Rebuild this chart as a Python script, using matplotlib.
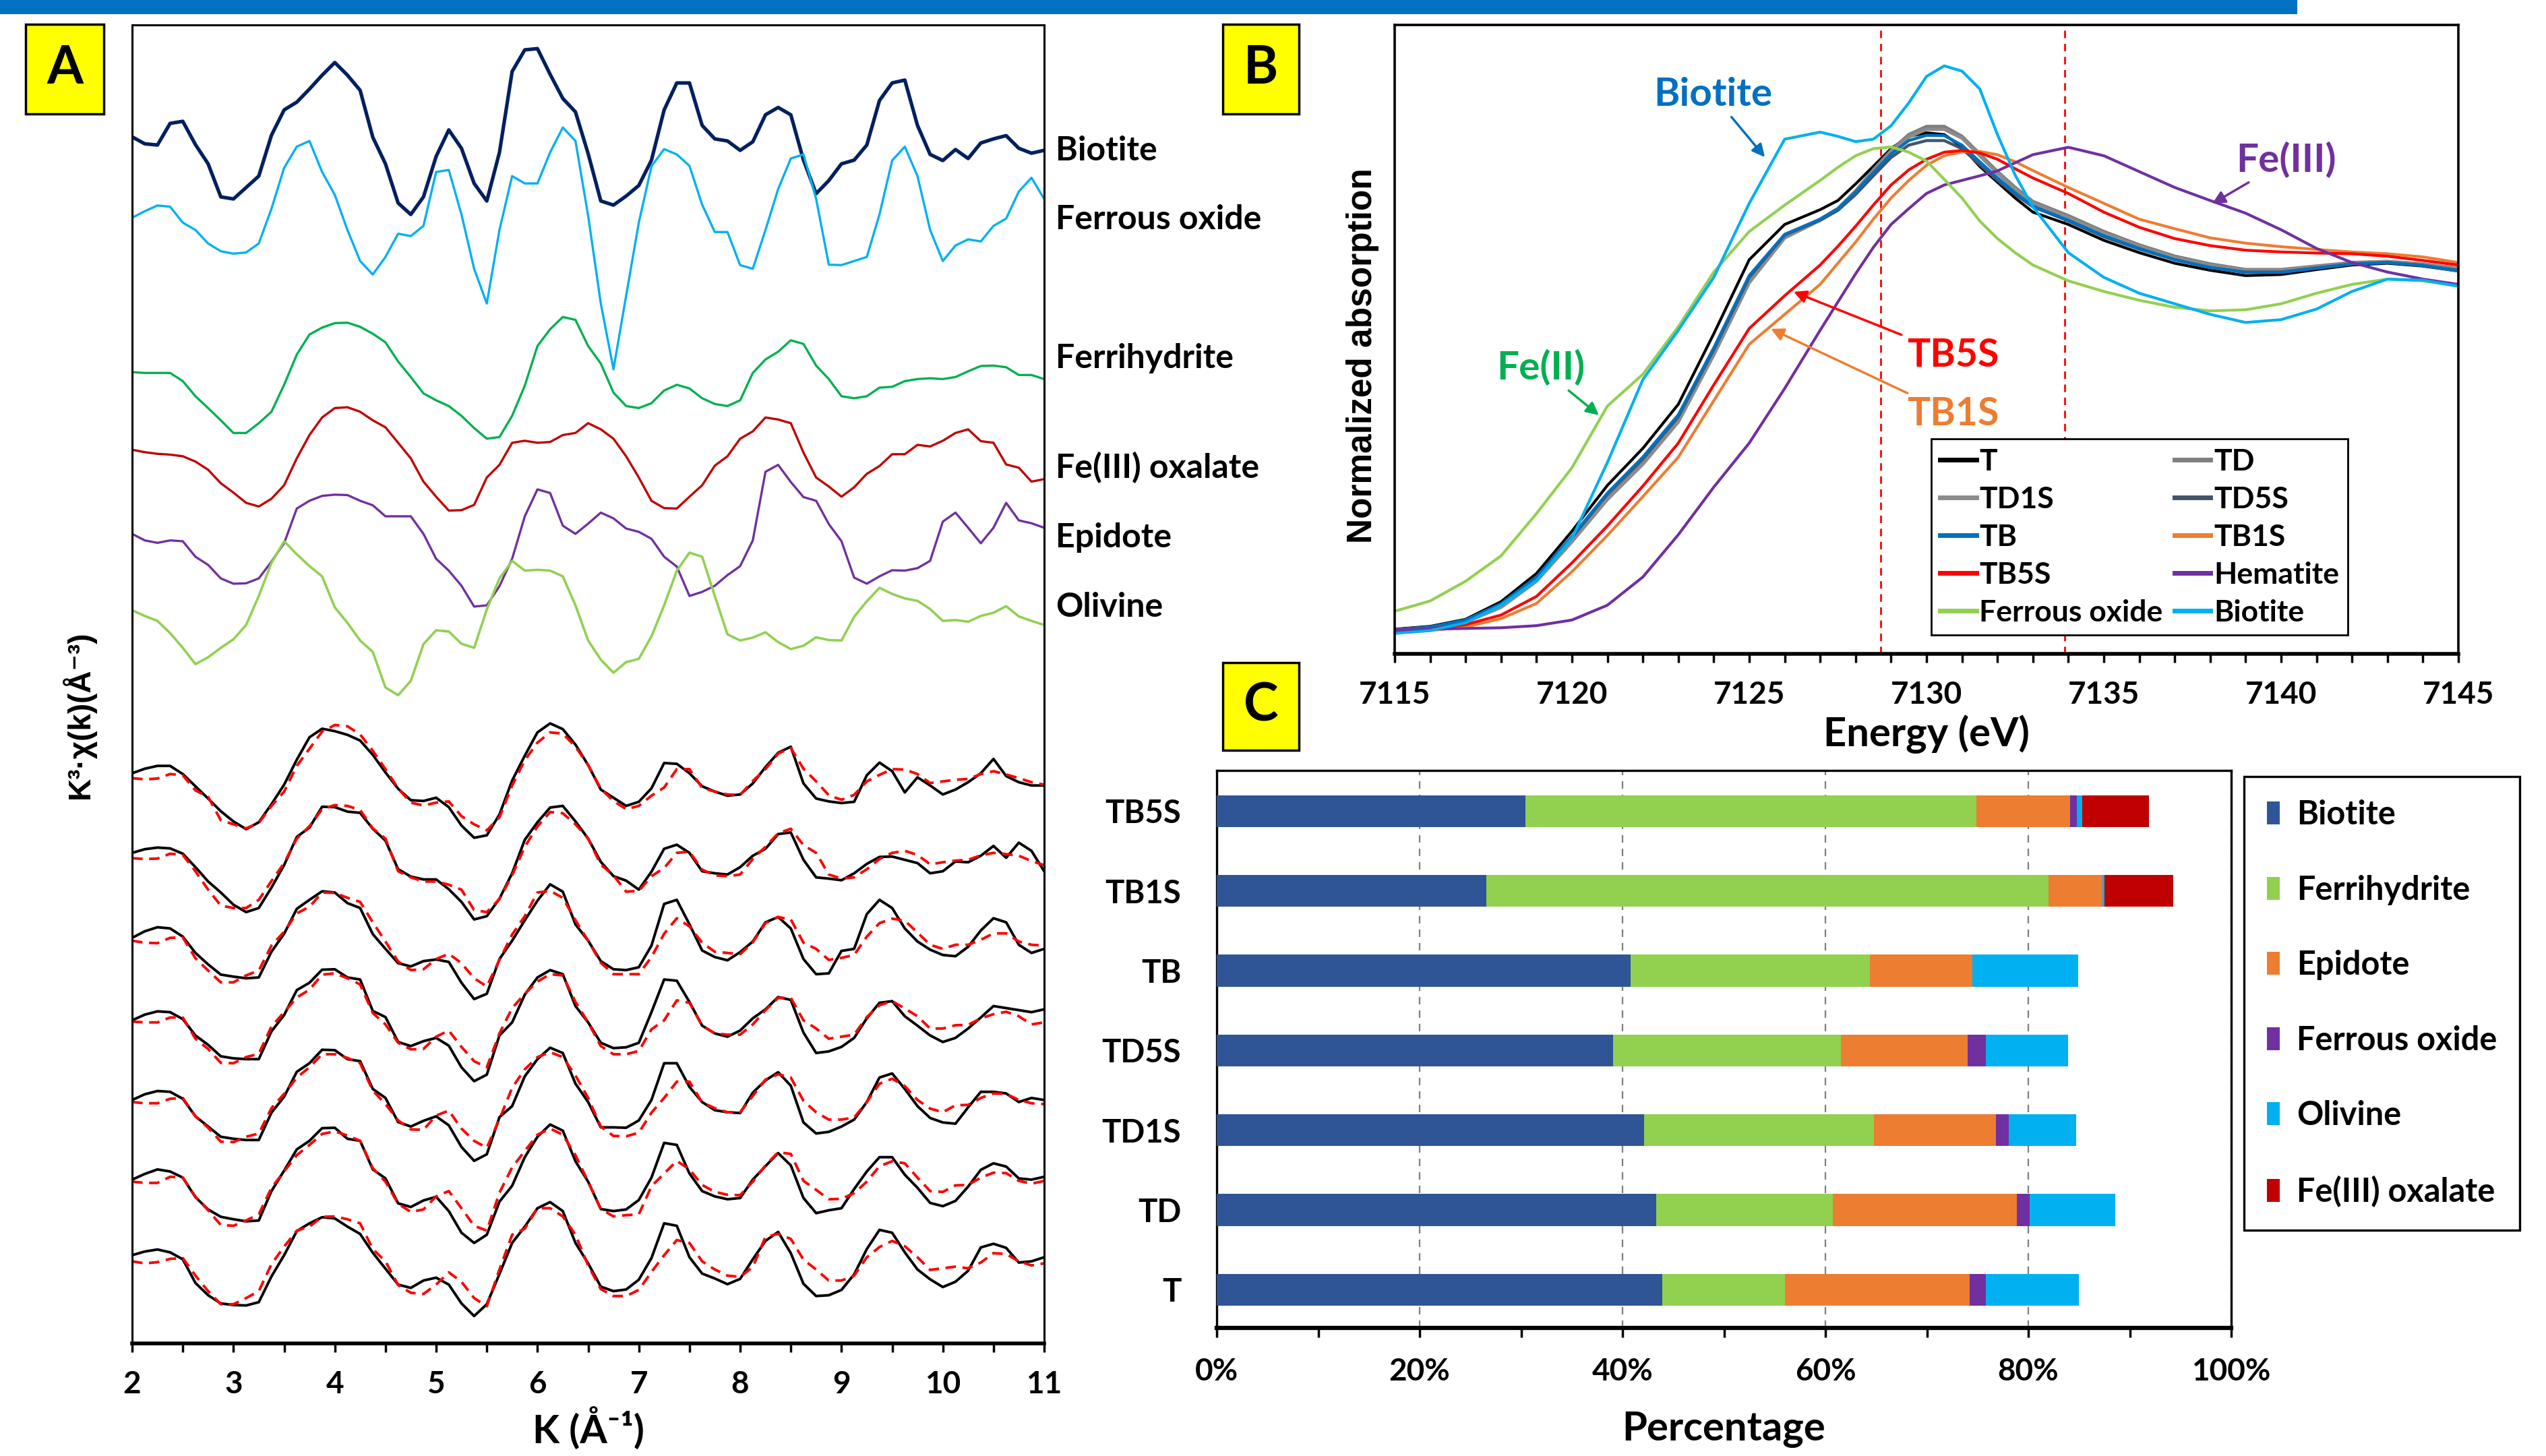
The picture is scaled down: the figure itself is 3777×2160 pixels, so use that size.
import numpy as np
import matplotlib
matplotlib.use('Agg')
import matplotlib.pyplot as plt
from matplotlib.patches import Rectangle, Patch
from matplotlib.ticker import MultipleLocator, FuncFormatter

plt.rcParams['font.family'] = ['Lato', 'DejaVu Sans']
plt.rcParams['font.weight'] = 'bold'

ARIAL = ['Liberation Sans', 'DejaVu Sans']

# ---------------- Panel A : k3-weighted EXAFS, stacked (arbitrary units) ----------------
k = np.arange(2.0, 11.0001, 0.125)

ref_biotite = [29.98, 29.81, 29.78, 30.31, 30.36, 29.79, 29.32, 28.51, 28.46, 28.74, 29.02, 30.02, 30.64,
               30.83, 31.15, 31.49, 31.80, 31.49, 31.12, 29.97, 29.32, 28.36, 28.08, 28.51, 29.50, 30.15,
               29.70, 28.84, 28.41, 29.60, 31.58, 32.11, 32.14, 31.51, 30.92, 30.59, 29.57, 28.41, 28.31,
               28.53, 28.79, 29.41, 30.64, 31.30, 31.30, 30.26, 29.93, 29.88, 29.65, 29.86, 30.52, 30.70,
               30.52, 29.41, 28.59, 28.91, 29.32, 29.41, 29.78, 30.87, 31.30, 31.37, 30.26, 29.55, 29.40,
               29.67, 29.45, 29.83, 29.93, 30.01, 29.70, 29.58, 29.65]
ref_ferrous_oxide = [28.00, 28.16, 28.30, 28.27, 27.88, 27.70, 27.37, 27.18, 27.12, 27.15, 27.37, 28.22, 29.22,
                     29.74, 29.88, 29.12, 28.56, 27.70, 26.94, 26.61, 27.04, 27.61, 27.55, 27.80, 29.12, 29.17,
                     28.08, 26.75, 25.90, 27.70, 29.02, 28.84, 28.84, 29.60, 30.21, 29.88, 28.05, 25.90, 24.29,
                     26.09, 27.88, 29.26, 29.68, 29.55, 29.27, 28.32, 27.65, 27.65, 26.84, 26.75, 27.70, 28.70,
                     29.45, 29.55, 28.46, 26.85, 26.84, 26.94, 27.04, 28.08, 29.40, 29.74, 29.02, 27.70, 26.94,
                     27.32, 27.47, 27.42, 27.80, 27.98, 28.64, 28.98, 28.46]
ref_ferrihydrite = [24.22, 24.20, 24.20, 24.20, 24.00, 23.63, 23.34, 23.04, 22.73, 22.73, 22.97, 23.25, 23.91,
                    24.65, 25.14, 25.31, 25.42, 25.43, 25.33, 25.16, 24.95, 24.48, 24.10, 23.70, 23.53, 23.39,
                    23.15, 22.85, 22.59, 22.63, 23.15, 23.89, 24.86, 25.27, 25.57, 25.50, 24.86, 24.43, 23.72,
                    23.39, 23.34, 23.46, 23.77, 23.91, 23.82, 23.58, 23.44, 23.39, 23.53, 24.20, 24.53, 24.72,
                    25.00, 24.91, 24.38, 24.05, 23.63, 23.58, 23.63, 23.84, 23.86, 24.00, 24.05, 24.07, 24.05,
                    24.10, 24.24, 24.37, 24.38, 24.34, 24.15, 24.15, 24.05]
ref_fe3_oxalate = [22.32, 22.26, 22.22, 22.20, 22.16, 22.03, 21.83, 21.50, 21.27, 21.02, 20.93, 21.12, 21.45,
                   22.11, 22.68, 23.11, 23.34, 23.36, 23.25, 23.04, 22.87, 22.49, 22.11, 21.54, 21.17, 20.83,
                   20.84, 20.97, 21.64, 21.95, 22.49, 22.54, 22.49, 22.51, 22.68, 22.73, 22.97, 22.82, 22.59,
                   22.16, 21.64, 21.07, 20.89, 20.88, 21.17, 21.45, 21.93, 22.16, 22.59, 22.77, 23.11, 23.06,
                   22.97, 22.25, 21.64, 21.42, 21.17, 21.40, 21.73, 21.92, 22.21, 22.21, 22.44, 22.40, 22.54,
                   22.73, 22.82, 22.53, 22.49, 21.96, 21.88, 21.54, 21.60]
ref_epidote = [20.26, 20.10, 20.04, 20.10, 20.08, 19.70, 19.50, 19.17, 19.04, 19.05, 19.17, 19.58, 20.03,
               20.88, 21.07, 21.19, 21.22, 21.21, 21.07, 20.96, 20.69, 20.69, 20.69, 20.26, 19.65, 19.36,
               18.99, 18.48, 18.51, 18.98, 19.65, 20.69, 21.35, 21.26, 20.46, 20.26, 20.51, 20.78, 20.64,
               20.39, 20.31, 20.14, 19.70, 19.46, 18.74, 18.84, 18.99, 19.25, 19.47, 20.10, 21.78, 21.95,
               21.53, 21.16, 21.07, 20.50, 20.08, 19.19, 19.04, 19.22, 19.37, 19.36, 19.42, 19.60, 20.56,
               20.78, 20.41, 20.03, 20.41, 21.02, 20.59, 20.52, 20.41]
ref_olivine = [18.39, 18.25, 18.13, 17.83, 17.47, 17.07, 17.24, 17.47, 17.68, 18.03, 18.74, 19.55, 20.08,
               19.76, 19.47, 19.22, 18.46, 18.08, 17.65, 17.37, 16.50, 16.31, 16.66, 17.56, 17.90, 17.87,
               17.57, 17.47, 18.41, 19.17, 19.60, 19.36, 19.38, 19.36, 19.22, 18.51, 17.65, 17.18, 16.86,
               17.12, 17.20, 17.75, 18.51, 19.36, 19.80, 19.70, 18.74, 17.80, 17.65, 17.72, 17.85, 17.61,
               17.44, 17.52, 17.73, 17.66, 17.65, 18.23, 18.61, 18.94, 18.79, 18.68, 18.62, 18.42, 18.13,
               18.15, 18.11, 18.25, 18.33, 18.49, 18.24, 18.13, 18.03]

# sample spectra (solid) and linear combination fits (dashed), top to bottom
exafs_TB5S = [14.40, 14.51, 14.58, 14.58, 14.38, 14.08, 13.78, 13.47, 13.22, 13.03, 13.20, 13.64, 14.12,
              14.73, 15.28, 15.49, 15.43, 15.34, 15.20, 14.85, 14.42, 14.02, 13.74, 13.72, 13.80, 13.57,
              13.12, 12.82, 12.88, 13.39, 14.22, 14.83, 15.40, 15.62, 15.48, 15.10, 14.60, 14.00, 13.80,
              13.60, 13.70, 14.03, 14.65, 14.63, 14.40, 14.08, 13.95, 13.85, 13.88, 14.15, 14.55, 14.90,
              15.05, 14.15, 13.78, 13.71, 13.67, 13.70, 14.35, 14.66, 14.45, 13.93, 14.30, 14.10, 13.88,
              14.00, 14.18, 14.40, 14.75, 14.33, 14.18, 14.10, 14.10]
fit_TB5S = [14.28, 14.25, 14.27, 14.38, 14.35, 13.98, 13.82, 13.25, 13.15, 13.05, 13.18, 13.60, 13.95,
            14.58, 15.00, 15.42, 15.58, 15.55, 15.35, 14.95, 14.50, 14.03, 13.68, 13.61, 13.68, 13.71,
            13.35, 13.15, 13.00, 13.32, 14.10, 14.72, 15.15, 15.40, 15.37, 15.05, 14.60, 14.02, 13.72,
            13.52, 13.60, 13.85, 14.05, 14.50, 14.50, 14.04, 13.95, 13.88, 13.87, 14.21, 14.50, 14.88,
            15.02, 14.51, 14.20, 13.86, 13.75, 13.87, 14.20, 14.36, 14.50, 14.49, 14.38, 14.16, 14.20,
            14.24, 14.26, 14.38, 14.45, 14.37, 14.28, 14.18, 14.12]
exafs_TB1S = [12.45, 12.54, 12.58, 12.56, 12.43, 12.10, 11.75, 11.48, 11.18, 11.00, 11.10, 11.60, 12.15,
              12.84, 13.07, 13.58, 13.57, 13.46, 13.43, 13.04, 12.75, 12.05, 11.87, 11.80, 11.80, 11.56,
              11.25, 10.82, 10.90, 11.33, 11.95, 12.77, 13.20, 13.56, 13.60, 13.22, 12.80, 12.23, 11.88,
              11.77, 11.55, 11.99, 12.55, 12.65, 12.45, 12.00, 11.95, 11.92, 12.10, 12.38, 12.55, 12.91,
              12.95, 12.28, 11.85, 11.82, 11.78, 11.95, 12.18, 12.35, 12.36, 12.28, 12.20, 11.95, 12.00,
              12.24, 12.22, 12.38, 12.62, 12.33, 12.70, 12.50, 12.00]
fit_TB1S = [12.32, 12.30, 12.31, 12.43, 12.40, 12.00, 11.55, 11.16, 11.10, 11.10, 11.30, 11.76, 12.20,
            12.80, 13.10, 13.52, 13.62, 13.60, 13.50, 13.05, 12.80, 12.00, 11.85, 11.75, 11.75, 11.67,
            11.55, 11.05, 11.00, 11.32, 11.90, 12.60, 13.10, 13.45, 13.42, 13.15, 12.80, 12.16, 11.90,
            11.50, 11.52, 11.88, 12.08, 12.45, 12.48, 12.04, 11.90, 11.88, 11.92, 12.30, 12.60, 12.93,
            13.04, 12.64, 12.45, 11.92, 11.82, 11.85, 12.05, 12.30, 12.45, 12.50, 12.40, 12.17, 12.22,
            12.26, 12.28, 12.39, 12.45, 12.42, 12.38, 12.25, 12.15]
exafs_TB = [10.37, 10.53, 10.63, 10.60, 10.40, 10.00, 9.72, 9.47, 9.42, 9.38, 9.40, 10.03, 10.47,
            11.08, 11.30, 11.51, 11.48, 11.22, 11.10, 10.46, 10.10, 9.75, 9.67, 9.80, 9.84, 9.78,
            9.27, 8.87, 9.00, 9.85, 10.30, 10.80, 11.28, 11.68, 11.50, 10.70, 10.30, 9.80, 9.60,
            9.58, 9.65, 10.18, 11.20, 11.30, 10.70, 10.06, 9.90, 9.82, 10.02, 10.28, 10.75, 10.88,
            10.60, 9.85, 9.48, 9.50, 10.05, 10.10, 10.95, 11.30, 11.10, 10.60, 10.28, 10.08, 9.95,
            9.92, 10.15, 10.55, 10.85, 10.75, 10.20, 10.00, 10.10]
fit_TB = [10.30, 10.25, 10.24, 10.37, 10.38, 9.87, 9.57, 9.28, 9.28, 9.45, 9.57, 10.18, 10.52,
          10.97, 11.13, 11.48, 11.47, 11.35, 11.25, 10.75, 10.28, 9.79, 9.58, 9.60, 9.85, 9.98,
          9.75, 9.38, 9.18, 9.83, 10.45, 10.90, 11.48, 11.52, 11.35, 10.80, 10.30, 9.76, 9.48,
          9.48, 9.48, 9.90, 10.47, 10.85, 10.65, 10.25, 10.03, 10.00, 9.97, 10.26, 10.73, 10.88,
          10.82, 10.25, 10.10, 9.83, 9.88, 9.95, 10.40, 10.73, 10.84, 10.79, 10.50, 10.20, 10.10,
          10.20, 10.20, 10.32, 10.48, 10.48, 10.28, 10.20, 10.18]
exafs_TD5S = [8.35, 8.49, 8.57, 8.55, 8.38, 7.98, 7.75, 7.47, 7.42, 7.40, 7.40, 8.08, 8.48,
              9.09, 9.27, 9.59, 9.60, 9.40, 9.35, 8.58, 8.43, 7.82, 7.72, 7.84, 7.92, 7.73,
              7.20, 6.86, 7.02, 7.98, 8.30, 8.98, 9.40, 9.58, 9.48, 8.70, 8.30, 7.80, 7.67,
              7.69, 7.80, 8.55, 9.35, 9.32, 8.80, 8.22, 8.03, 7.95, 8.10, 8.40, 8.62, 8.92,
              8.85, 8.05, 7.55, 7.59, 7.70, 7.92, 8.40, 8.78, 8.82, 8.45, 8.22, 7.98, 7.82,
              7.92, 8.15, 8.42, 8.70, 8.65, 8.60, 8.55, 8.62]
fit_TD5S = [8.32, 8.30, 8.30, 8.42, 8.42, 7.90, 7.65, 7.31, 7.30, 7.45, 7.53, 8.20, 8.55,
            8.91, 9.10, 9.47, 9.50, 9.38, 9.23, 8.53, 8.25, 7.80, 7.64, 7.65, 7.95, 8.10,
            7.70, 7.35, 7.20, 8.03, 8.65, 9.00, 9.30, 9.48, 9.45, 8.80, 8.30, 7.72, 7.52,
            7.52, 7.60, 8.13, 8.35, 8.84, 8.78, 8.22, 8.03, 8.00, 8.00, 8.25, 8.60, 8.90,
            8.90, 8.35, 8.15, 7.90, 7.95, 8.00, 8.43, 8.72, 8.82, 8.64, 8.45, 8.15, 8.15,
            8.23, 8.24, 8.40, 8.50, 8.56, 8.45, 8.25, 8.30]
exafs_TD1S = [6.40, 6.54, 6.62, 6.60, 6.43, 6.00, 5.75, 5.50, 5.45, 5.42, 5.42, 6.09, 6.48,
              7.09, 7.30, 7.63, 7.62, 7.40, 7.35, 6.67, 6.45, 5.86, 5.75, 5.89, 6.00, 5.78,
              5.25, 4.91, 5.07, 5.98, 6.25, 6.98, 7.40, 7.68, 7.55, 6.80, 6.35, 5.73, 5.73,
              5.72, 5.90, 6.40, 7.30, 7.30, 6.72, 6.35, 6.15, 6.10, 6.08, 6.58, 6.88, 7.08,
              6.75, 5.85, 5.58, 5.62, 5.75, 5.92, 6.35, 6.95, 7.05, 6.67, 6.25, 5.96, 5.85,
              5.82, 6.22, 6.60, 6.60, 6.56, 6.35, 6.45, 6.40]
fit_TD1S = [6.35, 6.32, 6.32, 6.43, 6.45, 6.00, 5.72, 5.38, 5.37, 5.50, 5.58, 6.20, 6.55,
            6.95, 7.20, 7.52, 7.52, 7.43, 7.30, 6.63, 6.30, 5.90, 5.68, 5.67, 6.02, 6.14,
            5.70, 5.40, 5.23, 5.93, 6.70, 7.15, 7.45, 7.57, 7.45, 7.00, 6.45, 5.75, 5.52,
            5.51, 5.60, 6.09, 6.45, 6.85, 6.85, 6.34, 6.20, 6.10, 6.10, 6.50, 6.90, 7.03,
            6.95, 6.38, 6.10, 5.92, 5.92, 5.97, 6.35, 6.80, 6.92, 6.74, 6.40, 6.19, 6.10,
            6.27, 6.28, 6.45, 6.56, 6.55, 6.40, 6.32, 6.30]
exafs_TD = [4.45, 4.59, 4.70, 4.65, 4.50, 4.02, 3.72, 3.54, 3.48, 3.43, 3.45, 4.17, 4.67,
            5.19, 5.40, 5.71, 5.72, 5.45, 5.40, 4.70, 4.48, 3.87, 3.78, 3.94, 4.03, 3.68,
            3.15, 2.90, 3.10, 3.91, 4.30, 5.00, 5.50, 5.80, 5.65, 4.90, 4.40, 3.73, 3.68,
            3.72, 3.95, 4.50, 5.35, 5.30, 4.60, 4.17, 4.04, 3.97, 4.00, 4.45, 4.78, 5.10,
            4.80, 4.00, 3.63, 3.70, 3.75, 4.22, 4.65, 5.00, 5.00, 4.57, 4.25, 3.88, 3.80,
            3.93, 4.28, 4.69, 4.85, 4.77, 4.48, 4.45, 4.52]
fit_TD = [4.40, 4.37, 4.37, 4.52, 4.50, 4.03, 3.70, 3.34, 3.32, 3.45, 3.60, 4.25, 4.65,
          5.05, 5.30, 5.57, 5.63, 5.53, 5.40, 4.73, 4.40, 3.86, 3.66, 3.72, 4.04, 4.17,
          3.75, 3.32, 3.20, 4.13, 4.75, 5.15, 5.55, 5.70, 5.55, 5.05, 4.40, 3.73, 3.55,
          3.58, 3.60, 4.29, 4.60, 4.91, 4.70, 4.32, 4.15, 4.08, 4.07, 4.40, 4.80, 5.12,
          5.08, 4.42, 4.20, 3.97, 3.98, 4.12, 4.40, 4.78, 4.90, 4.85, 4.50, 4.17, 4.15,
          4.31, 4.32, 4.50, 4.62, 4.61, 4.42, 4.35, 4.42]
exafs_T = [2.60, 2.69, 2.74, 2.67, 2.50, 1.92, 1.62, 1.42, 1.38, 1.37, 1.45, 2.08, 2.60,
           3.19, 3.38, 3.53, 3.50, 3.30, 3.12, 2.66, 2.27, 1.88, 1.80, 1.98, 2.05, 1.88,
           1.42, 1.11, 1.40, 2.14, 2.90, 3.30, 3.75, 3.90, 3.68, 2.90, 2.40, 1.83, 1.72,
           1.76, 2.00, 2.53, 3.38, 3.32, 2.55, 2.15, 2.03, 1.89, 2.02, 2.50, 2.95, 3.17,
           2.65, 1.90, 1.60, 1.62, 1.75, 2.13, 2.75, 3.22, 3.15, 2.67, 2.25, 2.01, 1.82,
           1.95, 2.22, 2.79, 2.88, 2.78, 2.42, 2.45, 2.55]
fit_T = [2.45, 2.40, 2.43, 2.51, 2.53, 2.10, 1.72, 1.40, 1.40, 1.55, 1.72, 2.38, 2.81,
         3.20, 3.30, 3.54, 3.55, 3.48, 3.38, 2.75, 2.45, 1.87, 1.68, 1.65, 1.88, 2.18,
         1.95, 1.55, 1.35, 2.25, 3.10, 3.25, 3.75, 3.75, 3.55, 3.10, 2.35, 1.77, 1.60,
         1.60, 1.75, 2.19, 2.60, 2.97, 2.90, 2.45, 2.25, 2.10, 2.07, 2.31, 3.05, 3.12,
         3.00, 2.49, 2.25, 1.98, 1.98, 2.10, 2.55, 2.80, 2.95, 2.82, 2.55, 2.24, 2.28,
         2.32, 2.28, 2.42, 2.65, 2.63, 2.45, 2.35, 2.40]

# ---------------- Panel B : normalized Fe K-edge XANES ----------------
energy = [7115, 7116, 7117, 7118, 7119, 7120, 7121, 7122, 7123, 7124, 7125, 7126, 7127,
          7127.5, 7128, 7128.5, 7129, 7129.5, 7130, 7130.5, 7131, 7131.5, 7132, 7132.5, 7133,
          7134, 7135, 7136, 7137, 7138, 7139, 7140, 7141, 7142, 7143, 7144, 7145]

xanes_T = [0.002, 0.010, 0.030, 0.080, 0.160, 0.280, 0.410, 0.515, 0.640, 0.840, 1.050, 1.150, 1.192,
           1.218, 1.265, 1.315, 1.365, 1.400, 1.410, 1.405, 1.370, 1.315, 1.270, 1.225, 1.185,
           1.150, 1.105, 1.070, 1.040, 1.020, 1.005, 1.008, 1.022, 1.035, 1.040, 1.032, 1.018]
xanes_TD = [0.000, 0.007, 0.025, 0.068, 0.142, 0.255, 0.375, 0.475, 0.595, 0.785, 0.990, 1.115, 1.165,
            1.195, 1.245, 1.305, 1.360, 1.405, 1.428, 1.428, 1.400, 1.350, 1.300, 1.255, 1.215,
            1.175, 1.130, 1.092, 1.060, 1.038, 1.022, 1.022, 1.032, 1.042, 1.045, 1.038, 1.025]
xanes_TD1S = [-0.002, 0.005, 0.022, 0.064, 0.138, 0.250, 0.370, 0.470, 0.590, 0.780, 0.985, 1.112, 1.162,
              1.192, 1.242, 1.300, 1.355, 1.398, 1.420, 1.420, 1.395, 1.345, 1.295, 1.250, 1.210,
              1.170, 1.125, 1.088, 1.056, 1.034, 1.020, 1.020, 1.030, 1.040, 1.044, 1.038, 1.026]
xanes_TD5S = [0.000, 0.008, 0.027, 0.072, 0.148, 0.262, 0.385, 0.485, 0.605, 0.795, 1.000, 1.120, 1.162,
              1.190, 1.235, 1.288, 1.340, 1.375, 1.388, 1.388, 1.365, 1.320, 1.275, 1.235, 1.200,
              1.160, 1.115, 1.080, 1.050, 1.028, 1.015, 1.015, 1.027, 1.038, 1.042, 1.034, 1.020]
xanes_TB = [0.000, 0.008, 0.028, 0.074, 0.150, 0.265, 0.388, 0.490, 0.610, 0.800, 1.005, 1.122, 1.165,
            1.195, 1.242, 1.297, 1.350, 1.388, 1.403, 1.402, 1.375, 1.328, 1.282, 1.240, 1.202,
            1.162, 1.118, 1.082, 1.050, 1.028, 1.014, 1.014, 1.026, 1.038, 1.042, 1.034, 1.018]
xanes_TB1S = [-0.008, -0.002, 0.008, 0.032, 0.075, 0.165, 0.268, 0.378, 0.490, 0.650, 0.810, 0.895, 0.980,
              1.040, 1.100, 1.165, 1.225, 1.275, 1.318, 1.345, 1.356, 1.357, 1.348, 1.328, 1.303,
              1.255, 1.210, 1.165, 1.138, 1.112, 1.097, 1.087, 1.079, 1.072, 1.067, 1.058, 1.042]
xanes_TB5S = [-0.005, 0.002, 0.015, 0.042, 0.095, 0.190, 0.295, 0.408, 0.530, 0.695, 0.855, 0.948, 1.035,
              1.088, 1.145, 1.205, 1.262, 1.305, 1.335, 1.355, 1.360, 1.353, 1.335, 1.308, 1.282,
              1.238, 1.185, 1.142, 1.110, 1.090, 1.077, 1.072, 1.069, 1.067, 1.060, 1.048, 1.035]
xanes_hematite = [0.000, 0.002, 0.004, 0.006, 0.012, 0.028, 0.070, 0.150, 0.270, 0.405, 0.530, 0.685, 0.850,
                  0.930, 1.010, 1.085, 1.150, 1.195, 1.238, 1.262, 1.275, 1.288, 1.302, 1.325, 1.348,
                  1.369, 1.345, 1.300, 1.255, 1.218, 1.182, 1.135, 1.082, 1.042, 1.015, 0.995, 0.980]
xanes_ferrous_oxide = [0.053, 0.082, 0.138, 0.210, 0.330, 0.460, 0.635, 0.725, 0.860, 1.015, 1.130, 1.205, 1.275,
                       1.312, 1.345, 1.365, 1.370, 1.355, 1.330, 1.278, 1.225, 1.160, 1.110, 1.070, 1.035,
                       0.990, 0.960, 0.935, 0.915, 0.905, 0.908, 0.925, 0.955, 0.980, 0.995, 0.990, 0.975]
xanes_biotite = [-0.010, -0.002, 0.020, 0.070, 0.140, 0.260, 0.475, 0.710, 0.850, 1.000, 1.210, 1.392, 1.412,
                 1.400, 1.385, 1.392, 1.430, 1.495, 1.570, 1.600, 1.585, 1.535, 1.405, 1.290, 1.200,
                 1.070, 1.000, 0.955, 0.925, 0.895, 0.872, 0.880, 0.910, 0.960, 0.995, 0.992, 0.975]

edge_lines = [7128.7, 7133.9]

# ---------------- Panel C : LCF fractions (%) ----------------
lcf_samples = ['T', 'TD', 'TD1S', 'TD5S', 'TB', 'TB1S', 'TB5S']
pct_biotite = [43.9, 43.3, 42.1, 39.1, 40.8, 26.6, 30.4]
pct_ferrihydrite = [12.1, 17.4, 22.7, 22.4, 23.6, 55.4, 44.5]
pct_epidote = [18.2, 18.2, 12.0, 12.5, 10.1, 5.3, 9.2]
pct_ferrous_oxide = [1.6, 1.2, 1.3, 1.8, 0.0, 0.0, 0.7]
pct_olivine = [9.2, 8.5, 6.6, 8.1, 10.4, 0.2, 0.5]
pct_fe3_oxalate = [0.0, 0.0, 0.0, 0.0, 0.0, 6.8, 6.6]

W, H = 3777, 2160


def px_rect(x0, y0, x1, y1):
    # pixel box (origin top-left) -> figure rect
    return [x0 / W, 1 - y1 / H, (x1 - x0) / W, (y1 - y0) / H]


def style_spines(ax, bottom=4.0, others=2.2):
    for side in ['left', 'right', 'top']:
        ax.spines[side].set_linewidth(others)
    ax.spines['bottom'].set_linewidth(bottom)


fig = plt.figure(figsize=(W / 100, H / 100), dpi=100)

# blue banner on top
fig.add_artist(Rectangle((0, 1 - 21 / H), 3408 / W, 21 / H, transform=fig.transFigure,
                         facecolor='#0070C0', edgecolor='none'))

# ---------- A ----------
axA = fig.add_axes(px_rect(196, 37, 1549, 1993))
refs = [('Biotite', ref_biotite, '#002060', 3.8, 223),
        ('Ferrous oxide', ref_ferrous_oxide, '#00B0F0', 2.4, 326),
        ('Ferrihydrite', ref_ferrihydrite, '#00B050', 2.4, 531),
        ('Fe(III) oxalate', ref_fe3_oxalate, '#C00000', 2.4, 694),
        ('Epidote', ref_epidote, '#7030A0', 2.4, 798),
        ('Olivine', ref_olivine, '#92D050', 2.6, 900)]
for name, vals, col, lw, ylab in refs:
    axA.plot(k, vals, color=col, lw=lw, solid_joinstyle='round')
    fig.text(1566 / W, 1 - ylab / H, name, fontsize=36, va='center', ha='left')

fits = [(exafs_TB5S, fit_TB5S), (exafs_TB1S, fit_TB1S), (exafs_TB, fit_TB), (exafs_TD5S, fit_TD5S),
        (exafs_TD1S, fit_TD1S), (exafs_TD, fit_TD), (exafs_T, fit_T)]
for data, fit in fits:
    axA.plot(k, data, color='black', lw=2.8, solid_joinstyle='round')
    axA.plot(k, fit, color='red', lw=2.8, dashes=(4, 2.5))

axA.set_xlim(2, 11)
axA.set_ylim(0.44, 32.72)
axA.set_yticks([])
axA.xaxis.set_major_locator(MultipleLocator(1))
axA.xaxis.set_minor_locator(MultipleLocator(0.5))
axA.tick_params(axis='x', which='both', direction='out', length=9, width=2.5, labelsize=33, pad=20)
style_spines(axA)
axA.text(0.5, (1993 - 2120) / 1956, 'K (Å⁻¹)', transform=axA.transAxes, ha='center', va='center',
         fontsize=42)
fig.text(116 / W, 1 - 1060 / H, 'K³·χ(k)(Å⁻³)', rotation=90, ha='center', va='center',
         fontsize=33, family=ARIAL, weight='bold')

# ---------- B ----------
axB = fig.add_axes(px_rect(2069, 37, 3647, 970))
xanes = [('T', xanes_T, 'black', 3.0), ('TD', xanes_TD, '#7F7F7F', 3.6),
         ('TD1S', xanes_TD1S, '#8C8C8C', 3.6), ('TD5S', xanes_TD5S, '#44546A', 3.2),
         ('TB', xanes_TB, '#0070C0', 3.2), ('TB1S', xanes_TB1S, '#ED7D31', 3.0),
         ('TB5S', xanes_TB5S, '#FF0000', 3.0), ('Hematite', xanes_hematite, '#7030A0', 3.0),
         ('Ferrous oxide', xanes_ferrous_oxide, '#92D050', 3.0), ('Biotite', xanes_biotite, '#00B0F0', 3.0)]
lines = {}
for name, vals, col, lw in xanes:
    lines[name], = axB.plot(energy, vals, color=col, lw=lw, label=name)
for e in edge_lines:
    axB.axvline(e, color='red', lw=2.0, dashes=(4, 3), zorder=1)

axB.set_xlim(7115, 7145)
axB.set_ylim(-0.068, 1.716)
axB.set_yticks([])
axB.xaxis.set_major_locator(MultipleLocator(5))
axB.xaxis.set_minor_locator(MultipleLocator(1))
axB.tick_params(axis='x', which='both', direction='out', length=9, width=2.5, labelsize=33, pad=20)
style_spines(axB, bottom=4.0, others=2.6)
axB.text(0.5, (970 - 1089) / 933, 'Energy (eV)', transform=axB.transAxes, ha='center', va='center',
         fontsize=43)
fig.text(2022 / W, 1 - 528 / H, 'Normalized absorption', rotation=90, ha='center', va='center',
         fontsize=37, family=ARIAL, weight='bold')

order = ['T', 'TD1S', 'TB', 'TB5S', 'Ferrous oxide', 'TD', 'TD5S', 'TB1S', 'Hematite', 'Biotite']
legB = axB.legend([lines[n] for n in order], order, ncol=2, loc='lower left',
                  bbox_to_anchor=(2865 / W, 1 - 942 / H), bbox_transform=fig.transFigure,
                  fontsize=32, frameon=True, fancybox=False, edgecolor='black', framealpha=1,
                  handlelength=1.2, handletextpad=0.1, columnspacing=0.4, labelspacing=0.36,
                  borderpad=0.3, borderaxespad=0)
legB.get_frame().set_linewidth(2.0)
for ln in legB.get_lines():
    ln.set_linewidth(5)

notes = [('Biotite', '#0070C0', (7123.97, 1.519), (7125.44, 1.341), 42),
         ('Fe(II)', '#00B050', (7119.13, 0.743), (7120.76, 0.609), 42),
         ('TB5S', '#FF0000', (7130.74, 0.779), (7126.25, 0.959), 41),
         ('TB1S', '#ED7D31', (7130.74, 0.611), (7125.61, 0.854), 41),
         ('Fe(III)', '#7030A0', (7140.15, 1.332), (7138.06, 1.209), 42)]
for txt, col, xyt, xy, fs in notes:
    axB.annotate(txt, xy=xy, xytext=xyt, color=col, fontsize=fs, ha='center', va='center',
                 arrowprops=dict(arrowstyle='-|>', color=col, lw=2.5, mutation_scale=28,
                                 shrinkA=4, shrinkB=0))

# ---------- C ----------
axC = fig.add_axes(px_rect(1805, 1143, 3310, 1970))
components = [('Biotite', pct_biotite, '#2F5597'), ('Ferrihydrite', pct_ferrihydrite, '#92D050'),
              ('Epidote', pct_epidote, '#ED7D31'), ('Ferrous oxide', pct_ferrous_oxide, '#7030A0'),
              ('Olivine', pct_olivine, '#00B0F0'), ('Fe(III) oxalate', pct_fe3_oxalate, '#C00000')]
ypos = np.arange(len(lcf_samples))
left = np.zeros(len(lcf_samples))
for name, vals, col in components:
    axC.barh(ypos, vals, left=left, height=0.4, color=col, edgecolor='none', zorder=3)
    left += np.array(vals)

axC.set_xlim(0, 100)
axC.set_ylim(-0.48, 6.51)
axC.set_yticks(ypos)
axC.set_yticklabels(lcf_samples)
axC.xaxis.set_major_locator(MultipleLocator(20))
axC.xaxis.set_minor_locator(MultipleLocator(10))
axC.xaxis.set_major_formatter(FuncFormatter(lambda v, p: f'{v:.0f}%'))
axC.tick_params(axis='x', which='both', direction='out', length=10, width=2.5, labelsize=33, pad=22)
axC.tick_params(axis='y', length=0, labelsize=34, pad=38)
axC.grid(axis='x', which='major', color='#7F7F7F', lw=1.6, dashes=(5, 4), zorder=0)
style_spines(axC, bottom=4.5, others=2.4)
axC.text(0.5, (1970 - 2121) / 827, 'Percentage', transform=axC.transAxes, ha='center', va='center',
         fontsize=43)

handles = [Patch(facecolor=c, edgecolor='none') for _, _, c in components]
legC = fig.legend(handles, [n for n, _, _ in components], loc='upper left',
                  bbox_to_anchor=(3329 / W, 1 - 1152 / H), fontsize=35, frameon=True, fancybox=False,
                  edgecolor='black', framealpha=1, handlelength=0.4, handleheight=0.7,
                  handletextpad=0.5, labelspacing=1.37, borderpad=0.7, borderaxespad=0)
legC.get_frame().set_linewidth(2.4)

# panel letters
for letter, box in [('A', (38, 36, 154, 169)), ('B', (1814, 36, 1927, 169)), ('C', (1814, 983, 1927, 1113))]:
    r = px_rect(*box)
    fig.add_artist(Rectangle((r[0], r[1]), r[2], r[3], transform=fig.transFigure,
                             facecolor='#FFFF00', edgecolor='black', lw=2.5))
    fig.text(r[0] + r[2] / 2, r[1] + r[3] / 2, letter, ha='center', va='center', fontsize=56)

fig.savefig('out.png', dpi=100)
